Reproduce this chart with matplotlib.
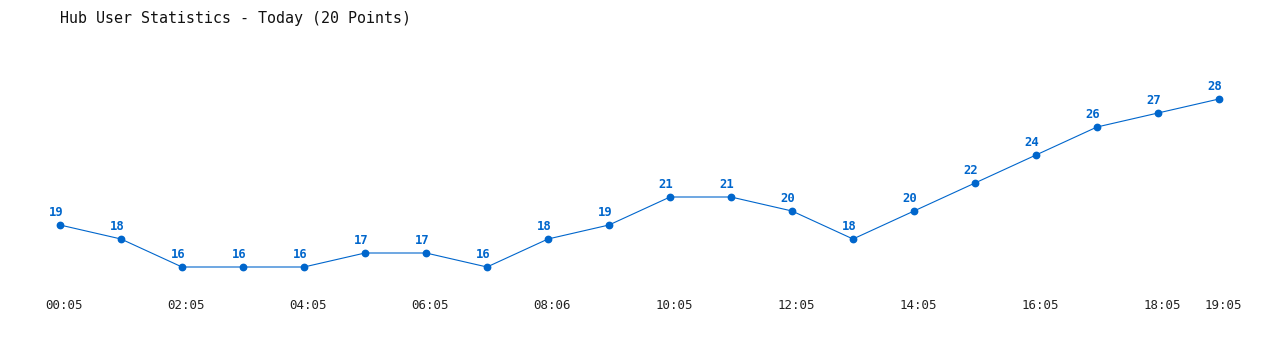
import matplotlib.pyplot as plt
from matplotlib.transforms import ScaledTranslation

times = ["00:05", "01:05", "02:05", "03:05", "04:05", "05:05", "06:05", "07:05", "08:06", "09:05",
         "10:05", "11:05", "12:05", "13:05", "14:05", "15:05", "16:05", "17:05", "18:05", "19:05"]
users = [19, 18, 16, 16, 16, 17, 17, 16, 18, 19, 21, 21, 20, 18, 20, 22, 24, 26, 27, 28]
shown = [0, 2, 4, 6, 8, 10, 12, 14, 16, 18, 19]

blue = "#0066cc"
mono = "DejaVu Sans Mono"

fig = plt.figure(figsize=(12.8, 3.5), dpi=100)
# axes box runs from first point to last point, lowest to highest value
ax = fig.add_axes([60 / 1280, (350 - 267) / 350, (1219 - 60) / 1280, 168 / 350])
x = list(range(len(users)))
ax.plot(x, users, color=blue, lw=0.8, marker="o", ms=4.6, clip_on=False)
for i, v in enumerate(users):
    ax.annotate(str(v), (i, v), xytext=(-4, 13), textcoords="offset pixels",
                ha="center", va="center", color=blue, fontsize=8.8,
                fontweight="bold", family=mono)

ax.set_xlim(0, len(users) - 1)
ax.set_ylim(16, 28)
ax.set_xticks([x[i] for i in shown])
ax.set_xticklabels([times[i] for i in shown], family=mono, fontsize=9, color="#222222")
ax.tick_params(axis="x", length=0, pad=23)
shift = ScaledTranslation(4.5 / 100, 0, fig.dpi_scale_trans)
for lab in ax.get_xticklabels():
    lab.set_transform(lab.get_transform() + shift)
ax.set_yticks([])
for s in ax.spines.values():
    s.set_visible(False)

fig.text(60 / 1280, 1 - 18 / 350, "Hub User Statistics - Today (20 Points)",
         family=mono, fontsize=10.8, va="center", ha="left", color="#111111")

fig.savefig("out.png", dpi=100)
